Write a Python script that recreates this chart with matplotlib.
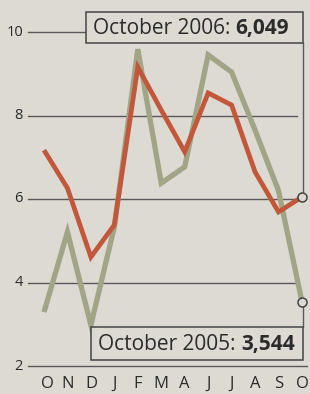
import matplotlib
matplotlib.use("Agg")
import matplotlib.pyplot as plt
from matplotlib.patches import Rectangle

# ---- data ----
months = ["O", "N", "D", "J", "F", "M", "A", "J", "J", "A", "S", "O"]
series_2005 = [3.29, 5.21, 2.98, 5.33, 9.59, 6.38, 6.77, 9.45, 9.04, 7.65, 6.2, 3.544]
series_2006 = [7.17, 6.26, 4.61, 5.38, 9.16, 8.13, 7.13, 8.54, 8.25, 6.65, 5.69, 6.049]
y_ticks = [10, 8, 6, 4, 2]
label_2006 = ("October 2006: ", "6,049")
label_2005 = ("October 2005: ", "3,544")

BG = "#dddad3"
TXT = "#2b2b2b"
GRID = "#5a5a5a"
GRAY = "#a2a486"
RED = "#c2573a"
FONT = ["Open Sans", "DejaVu Sans"]

W, H = 310, 394
fig = plt.figure(figsize=(W / 100, H / 100), dpi=100, facecolor=BG)
ax = fig.add_axes([0, 0, 1, 1])
ax.set_facecolor(BG)

# pixel -> data helpers (layout only)
def px(p):
    return (p - 44) / 23.45

def py(p):
    return 10 - (p - 32) / 41.75

ax.set_xlim(px(0), px(W))
ax.set_ylim(py(H), py(0))
ax.axis("off")

x = list(range(len(months)))

# gridlines
for v in y_ticks:
    if v == 10:
        ax.plot([px(28), px(86)], [v, v], color=GRID, lw=1.0, zorder=1)
    elif v == 2:
        ax.plot([px(28), px(307)], [v, v], color=GRID, lw=1.0, zorder=1)
    else:
        ax.plot([px(28), px(297)], [v, v], color=GRID, lw=1.0, zorder=1)
    ax.text(px(23), v, str(v), ha="right", va="center", fontsize=10.5,
            color=TXT, family=FONT)

# month labels
for i, m in enumerate(months):
    ax.text(i + 0.15 if i == 0 else i, py(384), m, ha="center", va="center",
            fontsize=12, color=TXT, family=FONT)

# lines
ax.plot(x, series_2005, color=GRAY, lw=3.8, solid_joinstyle="miter",
        solid_capstyle="butt", zorder=3)
ax.plot(x, series_2006, color=RED, lw=3.4, solid_joinstyle="miter",
        solid_capstyle="butt", zorder=4)

# connectors
ax.plot([px(303), px(303)], [py(43), series_2006[-1]], color=GRID, lw=1.0, zorder=5)
ax.plot([px(302.5), px(302.5)], [series_2005[-1], py(327)], color=GRID, lw=1.0, zorder=5)

# circles
ax.plot([x[-1]], [series_2006[-1]], marker="o", ms=6.5, mfc=BG, mec="#444444",
        mew=1.1, zorder=6, ls="none")
ax.plot([x[-1]], [series_2005[-1]], marker="o", ms=6.5, mfc=BG, mec="#444444",
        mew=1.1, zorder=6, ls="none")

def box(x0, y0, x1, y1, parts):
    r = Rectangle((px(x0), py(y1)), px(x1) - px(x0), py(y0) - py(y1),
                  facecolor=BG, edgecolor="#444444", lw=1.1, zorder=7)
    ax.add_patch(r)
    t1 = ax.text(px(x0 + 7), py((y0 + y1) / 2 + 1), parts[0], ha="left",
                 va="center", fontsize=15, color=TXT, family=FONT, zorder=8)
    ax.annotate(parts[1], xy=(1, 0), xycoords=t1, ha="left", va="bottom",
                fontsize=15, color=TXT, family=FONT, fontweight="bold", zorder=8)

box(86, 12, 303, 43, label_2006)
box(91, 327, 303, 360, label_2005)

fig.savefig("out.png", dpi=100, facecolor=BG)
